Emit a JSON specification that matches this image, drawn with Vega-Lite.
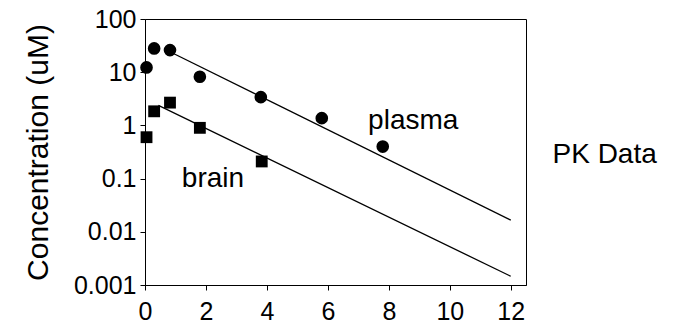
{
  "$schema": "https://vega.github.io/schema/vega-lite/v6.json",
  "autosize": "none",
  "width": 381,
  "height": 266,
  "padding": {"left": 145, "top": 19, "right": 153, "bottom": 39},
  "background": "white",
  "config": {
    "font": "Liberation Sans",
    "view": {"stroke": "black", "strokeWidth": 1},
    "axis": {
      "grid": false,
      "domainColor": "black",
      "tickColor": "black",
      "tickSize": 5,
      "labelColor": "black",
      "labelFont": "Liberation Sans",
      "labelFontSize": 25,
      "labelPadding": 4,
      "labelFlush": false,
      "titleFont": "Liberation Sans",
      "titleFontWeight": "normal",
      "titleColor": "black"
    }
  },
  "datasets": {
    "obs": [
      {"series": "plasma", "t": 0.05, "c": 12.3},
      {"series": "plasma", "t": 0.3, "c": 28},
      {"series": "plasma", "t": 0.82, "c": 26},
      {"series": "plasma", "t": 1.8, "c": 8.2},
      {"series": "plasma", "t": 3.8, "c": 3.4},
      {"series": "plasma", "t": 5.8, "c": 1.37},
      {"series": "plasma", "t": 7.8, "c": 0.4},
      {"series": "brain", "t": 0.05, "c": 0.6},
      {"series": "brain", "t": 0.3, "c": 1.84},
      {"series": "brain", "t": 0.82, "c": 2.68},
      {"series": "brain", "t": 1.8, "c": 0.9},
      {"series": "brain", "t": 3.83, "c": 0.21}
    ],
    "fit": [
      {"series": "plasma", "t": 0.8, "c": 24.5},
      {"series": "plasma", "t": 12, "c": 0.0166},
      {"series": "brain", "t": 0.44, "c": 2.38},
      {"series": "brain", "t": 12, "c": 0.00146}
    ],
    "labels": [
      {"label": "brain", "t": 2.23, "c": 0.0686},
      {"label": "plasma", "t": 8.8, "c": 0.867},
      {"label": "PK Data", "t": 15.08, "c": 0.1945}
    ]
  },
  "layer": [
    {
      "data": {"name": "fit"},
      "mark": {"type": "line", "color": "black", "strokeWidth": 1.3},
      "encoding": {
        "x": {
          "field": "t", "type": "quantitative",
          "scale": {"domain": [0, 12.5], "nice": false, "zero": false},
          "axis": {"values": [0, 2, 4, 6, 8, 10, 12], "title": null, "labelPadding": 9}
        },
        "y": {
          "field": "c", "type": "quantitative",
          "scale": {"type": "log", "domain": [0.001, 100], "nice": false},
          "axis": {
            "values": [0.001, 0.01, 0.1, 1, 10, 100],
            "format": "~g",
            "title": "Concentration (uM)",
            "titleFontSize": 30,
            "titlePadding": 20
          }
        },
        "detail": {"field": "series"}
      }
    },
    {
      "data": {"name": "obs"},
      "transform": [{"filter": "datum.series === 'plasma'"}],
      "mark": {"type": "point", "shape": "circle", "filled": true, "color": "black", "opacity": 1, "size": 160},
      "encoding": {
        "x": {"field": "t", "type": "quantitative"},
        "y": {"field": "c", "type": "quantitative"}
      }
    },
    {
      "data": {"name": "obs"},
      "transform": [{"filter": "datum.series === 'brain'"}],
      "mark": {"type": "point", "shape": "square", "filled": true, "color": "black", "opacity": 1, "size": 140},
      "encoding": {
        "x": {"field": "t", "type": "quantitative"},
        "y": {"field": "c", "type": "quantitative"}
      }
    },
    {
      "data": {"name": "labels"},
      "mark": {"type": "text", "fontSize": 28, "font": "Liberation Sans", "color": "black", "align": "center", "baseline": "alphabetic", "clip": false},
      "encoding": {
        "x": {"field": "t", "type": "quantitative"},
        "y": {"field": "c", "type": "quantitative"},
        "text": {"field": "label"}
      }
    }
  ]
}
